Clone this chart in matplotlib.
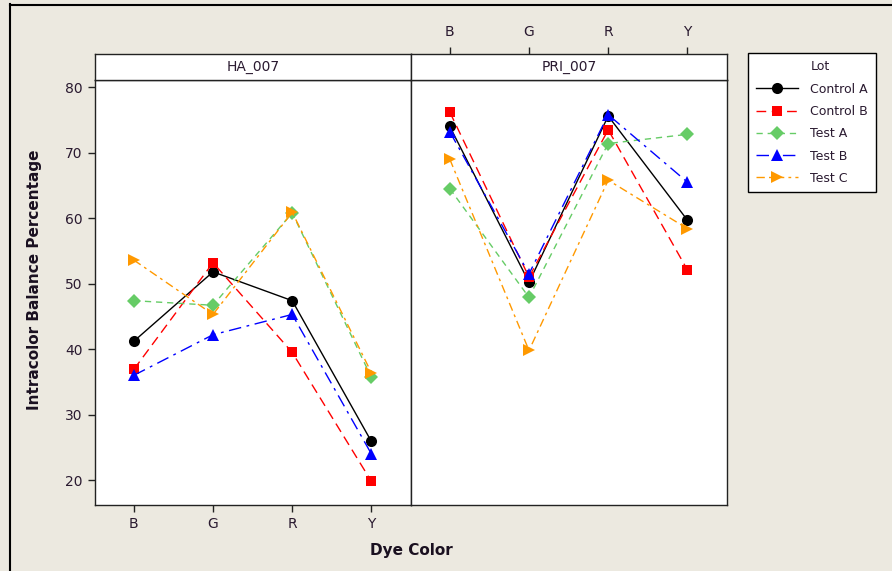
import matplotlib
matplotlib.use("Agg")
import matplotlib.pyplot as plt
from matplotlib.lines import Line2D

W, H = 892, 571
BG = "#ECE9E0"

colors = ["B", "G", "R", "Y"]
panels = ["HA_007", "PRI_007"]
lots = ["Control A", "Control B", "Test A", "Test B", "Test C"]

# interaction values per lot, one list per panel (B, G, R, Y)
ha_007 = {
    "Control A": [41.2, 51.8, 47.4, 25.9],
    "Control B": [36.9, 53.2, 39.5, 19.8],
    "Test A":    [47.4, 46.7, 60.8, 35.7],
    "Test B":    [36.0, 42.2, 45.3, 24.0],
    "Test C":    [53.6, 45.3, 60.9, 36.4],
}
pri_007 = {
    "Control A": [74.0, 50.2, 75.6, 59.7],
    "Control B": [76.2, 51.0, 73.5, 52.1],
    "Test A":    [64.5, 47.9, 71.4, 72.8],
    "Test B":    [73.2, 51.5, 75.8, 65.5],
    "Test C":    [69.0, 39.8, 65.8, 58.4],
}
yticks = [20, 30, 40, 50, 60, 70, 80]

styles = {
    "Control A": dict(color="black", marker="o", dashes=()),
    "Control B": dict(color="#FF0000", marker="s", dashes=(7, 4)),
    "Test A":    dict(color="#66CC66", marker="D", dashes=(4.5, 3.5)),
    "Test B":    dict(color="#0000FF", marker="^", dashes=(9, 4, 2, 4)),
    "Test C":    dict(color="#FF9900", marker=">", dashes=(6, 3, 2, 3)),
}
msize = {"o": 8, "s": 7.5, "D": 7.5, "^": 8, ">": 8}

plt.rcParams["font.family"] = ["DejaVu Sans"]
fig = plt.figure(figsize=(W / 100, H / 100), dpi=100, facecolor=BG)


def box(x0, y0, x1, y1):
    # pixel box (top-left origin) -> figure fraction rect
    return [x0 / W, 1 - y1 / H, (x1 - x0) / W, (y1 - y0) / H]


# outer frame of the window (left and top edges)
fig.add_artist(Line2D([9.5 / W, 9.5 / W], [0, 1 - 4 / H], color="black", lw=1.5))
fig.add_artist(Line2D([9.5 / W, 1], [1 - 4.5 / H, 1 - 4.5 / H], color="black", lw=1.5))

ylim = (16.2, 81.1)
xlim = (-0.49, 3.5)
lefts = [95, 411]
rights = [411, 727]

for i, (name, data) in enumerate(zip(panels, [ha_007, pri_007])):
    ax = fig.add_axes(box(lefts[i], 80, rights[i], 505))
    strip = fig.add_axes(box(lefts[i], 54, rights[i], 80), sharex=ax)
    for a in (ax, strip):
        a.set_facecolor("white")
        for s in a.spines.values():
            s.set_linewidth(1.0)
            s.set_color("#222222")

    for lot in lots:
        st = styles[lot]
        ax.plot(range(4), data[lot], color=st["color"], lw=1.0,
                dashes=st["dashes"], marker=st["marker"],
                markersize=msize[st["marker"]], markeredgewidth=0,
                label=lot)

    ax.set_xlim(*xlim)
    ax.set_ylim(*ylim)
    ax.set_xticks(range(4))
    ax.set_yticks(yticks)
    ax.tick_params(direction="out", length=5, width=1, labelsize=10,
                   color="#222222", labelcolor="#2a1a30", pad=4)

    strip.set_yticks([])
    strip.text(0.5, 0.5, name, transform=strip.transAxes, ha="center",
               va="center", fontsize=10, color="#2a1a30")

    if i == 0:
        ax.set_xticklabels(colors)
        strip.tick_params(axis="x", bottom=False, labelbottom=False)
    else:
        ax.tick_params(axis="x", bottom=False, labelbottom=False)
        ax.tick_params(axis="y", left=False, labelleft=False)
        strip.tick_params(axis="x", bottom=False, labelbottom=False,
                          top=True, labeltop=True, direction="out", length=5,
                          width=1, labelsize=10, color="#222222",
                          labelcolor="#2a1a30", pad=6)
        strip.set_xticklabels(colors)

fig.text(35 / W, 1 - 280 / H, "Intracolor Balance Percentage", rotation=90,
         ha="center", va="center", fontsize=11, fontweight="bold", color="#1a1020")
fig.text(411 / W, 1 - 551 / H, "Dye Color", ha="center", va="center",
         fontsize=11, fontweight="bold", color="#1a1020")

handles = [Line2D([], [], color="none", label="Lot")]
for lot in lots:
    st = styles[lot]
    handles.append(Line2D([], [], color=st["color"], lw=1.0, dashes=st["dashes"],
                          marker=st["marker"], markersize=msize[st["marker"]],
                          markeredgewidth=0, label=lot))
leg = fig.legend(handles=handles, loc="upper left",
                 bbox_to_anchor=(748 / W, 1 - 53 / H), borderaxespad=0,
                 fontsize=9, frameon=True, fancybox=False, framealpha=1,
                 handlelength=3.4, labelspacing=0.74, borderpad=0.6,
                 handletextpad=1.0)
leg.get_frame().set_edgecolor("black")
leg.get_frame().set_linewidth(1.0)
leg.get_frame().set_facecolor("white")
for t in leg.get_texts():
    t.set_color("#2a1a30")

fig.savefig("out.png", dpi=100, facecolor=BG)
